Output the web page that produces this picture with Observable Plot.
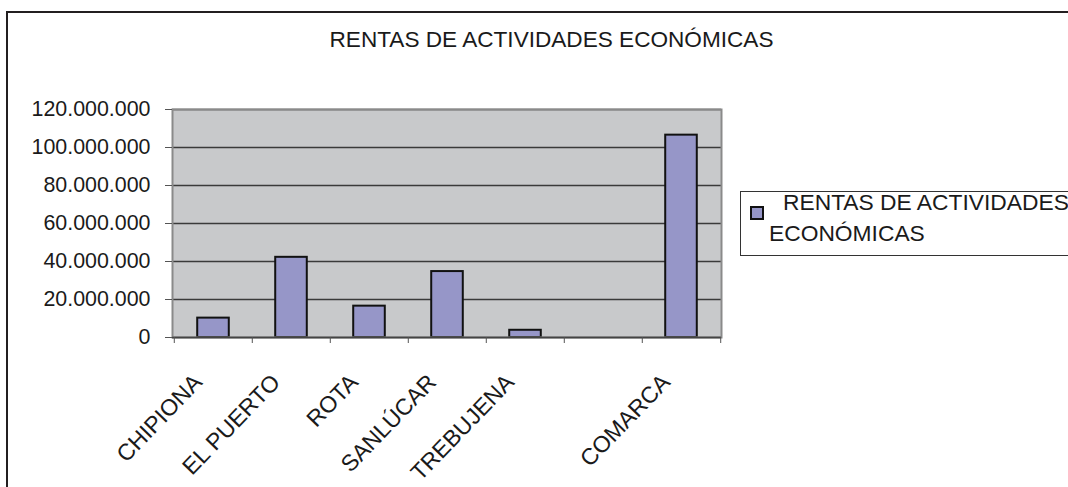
<!DOCTYPE html>
<html><head><meta charset="utf-8">
<script src="https://cdn.jsdelivr.net/npm/d3@7"></script>
<script src="https://cdn.jsdelivr.net/npm/@observablehq/plot@0.6"></script>
<style>
html,body{margin:0;padding:0;overflow:hidden;background:#fff;}
body{font-family:"Liberation Sans",Arial,sans-serif;color:#1a1a1a;}
#wrap{position:relative;width:1068px;height:487px;overflow:hidden;background:#fff;}
#btop{position:absolute;left:6px;top:11px;width:1062px;height:2px;background:#231f20;}
#bleft{position:absolute;left:6px;top:11px;width:2px;height:476px;background:#231f20;}
#title{position:absolute;left:0;top:28px;width:1103px;text-align:center;font-size:22.6px;line-height:23px;white-space:nowrap;}
#chart{position:absolute;left:0;top:0;width:1068px;height:487px;overflow:hidden;}
#legend{position:absolute;left:740px;top:191px;width:360px;height:63px;border:1px solid #333;background:#fff;}
#legend .sw{position:absolute;left:9px;top:14px;width:10px;height:10px;border:2px solid #111;}
#legend .l1{position:absolute;left:42px;top:-1px;font-size:22.8px;line-height:23px;white-space:nowrap;}
#legend .l2{position:absolute;left:28px;top:30px;font-size:22.8px;line-height:23px;white-space:nowrap;}
</style></head><body>
<div id="wrap">
  <div id="chart"></div>
  <div id="btop"></div>
  <div id="bleft"></div>
  <div id="title"></div>
  <div id="legend"><div class="sw"></div><div class="l1"></div><div class="l2"></div></div>
</div>
<script>
const titleText = "RENTAS DE ACTIVIDADES ECONÓMICAS";
const seriesLine1 = "RENTAS DE ACTIVIDADES";
const seriesLine2 = "ECONÓMICAS";
const categories = ["CHIPIONA", "EL PUERTO", "ROTA", "SANLÚCAR", "TREBUJENA", "", "COMARCA"];
const values = [10200000, 42200000, 16500000, 34700000, 3800000, null, 106500000];
const yTicks = [0, 20000000, 40000000, 60000000, 80000000, 100000000, 120000000];

const barColor = "#9696c8";
document.getElementById("title").textContent = titleText;
document.querySelector("#legend .l1").textContent = seriesLine1;
document.querySelector("#legend .l2").textContent = seriesLine2;
document.querySelector("#legend .sw").style.background = barColor;

const data = categories.map((c, i) => ({category: c, value: values[i]}));
const fmtLocale = d3.formatLocale({decimal: ",", thousands: ".", grouping: [3], currency: ["", "€"]});
const fmt = fmtLocale.format(",");

const W = 1068, H = 487, mL = 172, mR = 347, mT = 109, mB = 150;
const bw = (W - mL - mR) / categories.length;
const inset = (bw - 32) / 2;

const chart = Plot.plot({
  width: W, height: H,
  marginLeft: mL, marginRight: mR, marginTop: mT, marginBottom: mB,
  style: {fontFamily: "'Liberation Sans', Arial, sans-serif", background: "transparent", color: "#1a1a1a"},
  x: {type: "band", domain: categories, padding: 0},
  y: {domain: [0, 120000000]},
  marks: [
    Plot.frame({fill: "#c8c9cb", stroke: null}),
    Plot.gridY({ticks: yTicks, stroke: "#3a3a3a", strokeOpacity: 1, strokeWidth: 1.3}),
    Plot.barY(data.filter(d => d.value != null), {x: "category", y: "value", fill: barColor, stroke: "#111", strokeWidth: 2, insetLeft: inset, insetRight: inset}),
    Plot.frame({stroke: "#8a8a8a", strokeWidth: 2}),
    Plot.ruleY([0], {stroke: "#444", strokeWidth: 1.5}),
    Plot.axisY({ticks: yTicks, tickFormat: fmt, tickSize: 7, tickPadding: 15, fontSize: 21.4, stroke: "#555", fill: "#1a1a1a", label: null}),
    Plot.axisX(categories, {tickSize: 6, tickFormat: () => "", dx: -bw / 2, stroke: "#555", label: null}),
    Plot.axisX([categories[categories.length - 1]], {tickSize: 6, tickFormat: () => "", dx: bw / 2, stroke: "#555", label: null}),
    Plot.text(categories.filter(c => c !== ""), {x: d => d, text: d => d, frameAnchor: "bottom", rotate: -46, textAnchor: "end", lineAnchor: "bottom", dx: -10, dy: 46, fontSize: 23, fill: "#1a1a1a"})
  ]
});
document.getElementById("chart").appendChild(chart);
</script>
</body></html>
